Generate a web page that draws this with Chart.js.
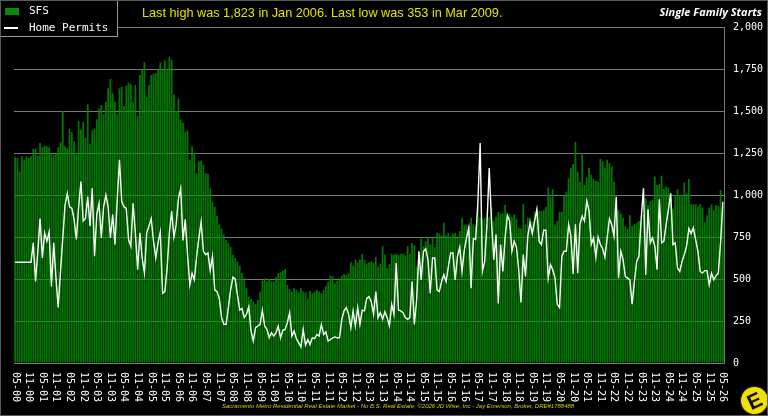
<!DOCTYPE html>
<html>
<head>
<meta charset="utf-8">
<script src="https://cdn.jsdelivr.net/npm/chart.js@4.4.1/dist/chart.umd.min.js"></script>
<style>
  html, body { margin: 0; padding: 0; background: #000; }
  #wrap { position: relative; width: 768px; height: 416px; background: #000; overflow: hidden; }
  #wrap canvas { position: absolute; left: 0; top: 0; }
  .frame { position: absolute; left: 0; top: 0; width: 766px; height: 414px; border: 1px solid #5a5a5a; pointer-events: none; }
  .legend { position: absolute; left: 0; top: 0; width: 116px; height: 35px; border: 1px solid #9a9a9a; background: #000;
            font: 11px "DejaVu Sans Mono", monospace; color: #fff; }
  .legend .sw { position: absolute; left: 4px; top: 7px; width: 14px; height: 7px; background: #0a8a0a; }
  .legend .ln { position: absolute; left: 3px; top: 26px; width: 14px; height: 2px; background: #fff; }
  .legend .t1 { position: absolute; left: 28px; top: 3px; }
  .legend .t2 { position: absolute; left: 28px; top: 20px; }
  .title { position: absolute; left: 142px; top: 6px; font: 12.7px "Liberation Sans", Arial, sans-serif; color: #e4e400; white-space: nowrap; }
  .sub { position: absolute; right: 6px; top: 4px; font: italic bold 11px "Open Sans", sans-serif; color: #fff; white-space: nowrap; }
  .foot { position: absolute; left: 222px; top: 403px; font: italic 6px "Liberation Sans", Arial, sans-serif; color: #d0d000; white-space: nowrap; }
  .logo { position: absolute; left: 740px; top: 386px; width: 27px; height: 27px; border-radius: 50%; background: #f2e000;
          border: 1px solid #222; font: bold 21px "Liberation Sans", Arial, sans-serif; color: #111; text-align: center; line-height: 27px;
          transform: rotate(-25deg); }
</style>
</head>
<body>
<div id="wrap">
  <canvas id="c" width="768" height="416"></canvas>
  <div class="legend">
    <div class="sw"></div><div class="t1">SFS</div>
    <div class="ln"></div><div class="t2">Home Permits</div>
  </div>
  <div class="title">Last high was 1,823 in Jan 2006. Last low was 353 in Mar 2009.</div>
  <div class="sub">Single Family Starts</div>
  <div class="foot">Sacramento Metro Residential Real Estate Market - No B.S. Real Estate, ©2026 JD Wise, Inc - Jay Emerson, Broker, DRE#1788488</div>
  <div class="logo">E</div>
  <div class="frame"></div>
</div>
<script>
// monthly categories, May 2000 .. May 2026
const months = [];
for (let y = 2000, m = 5; y < 2026 || (y === 2026 && m <= 5); m++) {
    if (m > 12) { m = 1; y++; if (y === 2026 && m > 5) break; }
    months.push(String(m).padStart(2, "0") + "-" + String(y % 100).padStart(2, "0"));
}

const tickLabels = [
    "05-00","11-00","05-01","11-01","05-02","11-02","05-03","11-03","05-04","11-04",
    "05-05","11-05","05-06","11-06","05-07","11-07","05-08","11-08","05-09","11-09",
    "05-10","11-10","05-11","11-11","05-12","11-12","05-13","11-13","05-14","11-14",
    "05-15","11-15","05-16","11-16","05-17","11-17","05-18","11-18","05-19","11-19",
    "05-20","11-20","05-21","11-21","05-22","11-22","05-23","11-23","05-24","11-24",
    "05-25","11-25","05-26"
];

const yTicks = [0, 250, 500, 750, 1000, 1250, 1500, 1750, 2000];

// single family starts (bars)
const sfs = [
    1225,1220,1140,1230,1210,1230,1220,1230,1275,1275,1235,1310,1285,1295,1290,1285,1245,1240,1245,1285,
    1315,1500,1290,1280,1395,1375,1320,1250,1440,1390,1435,1340,1540,1305,1385,1395,1450,1515,1535,1480,
    1555,1635,1690,1605,1555,1480,1635,1645,1530,1650,1670,1660,1555,1655,1470,1715,1745,1790,1585,1655,
    1715,1720,1725,1745,1790,1745,1800,1750,1823,1805,1600,1500,1575,1450,1430,1375,1385,1210,1290,1250,
    1130,1200,1205,1180,1130,1125,1040,960,930,875,825,800,765,730,715,690,645,625,605,580,
    535,505,445,395,380,365,353,375,425,490,505,485,500,490,485,510,535,540,550,560,
    465,440,425,445,435,420,445,425,420,385,430,415,425,435,425,415,435,460,485,520,
    515,475,490,505,520,530,525,535,600,580,615,600,615,650,615,590,600,605,595,630,
    575,590,695,645,565,590,650,645,650,645,650,650,640,695,650,715,700,575,630,740,
    695,725,750,705,745,690,775,770,760,835,760,775,750,770,775,745,785,865,820,825,
    815,865,825,815,935,865,855,865,825,870,925,845,870,900,890,890,940,880,890,870,
    885,860,805,800,945,825,865,865,845,900,920,905,905,910,930,1045,990,1035,825,845,
    900,900,1000,1020,1100,1160,1185,1315,1140,1080,1250,1060,1105,1160,1120,1095,1085,1080,1215,1200,
    1160,1210,1190,1170,1080,980,910,890,865,815,800,880,815,825,835,845,845,885,980,940,
    965,970,1110,1060,1065,1115,1035,1050,1045,985,920,1000,1035,1000,1000,1075,1010,1095,945,945,
    945,930,945,925,840,880,925,945,910,940,935,1030,940
];

// home permits (line)
const permits = [
    600,600,600,600,600,600,600,600,715,485,665,860,625,775,725,780,455,715,505,330,
    545,745,940,1010,930,920,855,735,930,1080,845,860,990,815,1040,635,885,950,745,930,
    1000,930,745,885,705,970,1210,960,930,920,735,695,950,775,555,775,625,535,775,815,
    860,725,625,715,780,415,425,565,775,905,750,825,980,1040,730,855,645,465,535,495,
    635,745,840,665,645,655,550,635,435,425,385,270,230,230,330,435,510,500,405,315,
    325,270,290,335,190,130,210,220,230,315,220,200,150,180,160,180,220,150,195,200,
    240,300,160,190,145,120,95,200,105,140,110,150,145,170,160,230,170,185,130,140,
    150,155,150,150,260,310,330,290,210,310,220,330,230,315,310,385,395,365,290,425,
    270,300,260,305,270,220,350,290,595,315,310,300,270,260,270,485,230,375,665,495,
    665,680,615,415,625,625,435,425,485,525,485,575,655,655,495,635,690,545,670,745,
    805,445,740,735,955,1310,545,605,825,1160,845,615,765,355,705,545,745,880,845,665,
    725,690,555,360,645,515,755,835,770,845,915,725,705,790,790,505,585,555,505,350,
    330,635,665,665,825,755,530,825,535,825,875,845,965,905,705,745,630,750,705,680,
    630,745,860,825,755,990,505,665,615,515,505,495,350,485,605,635,860,1040,525,915,
    715,745,695,555,975,715,725,825,915,1010,705,715,565,545,605,645,695,800,770,805,
    735,665,545,535,550,550,465,535,495,520,535,720,960
];

// rotated month labels under the axis (text runs downward)
const xLabels = {
    id: "xLabels",
    afterDraw(chart) {
        const { ctx, scales: { x } } = chart;
        ctx.save();
        ctx.fillStyle = "#ffffff";
        ctx.font = '10px "DejaVu Sans Mono", monospace';
        ctx.textAlign = "left";
        ctx.textBaseline = "middle";
        tickLabels.forEach(lbl => {
            const idx = months.indexOf(lbl);
            if (idx < 0) return;
            const px = x.getPixelForValue(idx);
            ctx.save();
            ctx.translate(px, x.top + 9);
            ctx.rotate(Math.PI / 2);
            ctx.fillText(lbl, 0, 0);
            ctx.restore();
        });
        ctx.restore();
    }
};

new Chart(document.getElementById("c"), {
    data: {
        labels: months,
        datasets: [
            {
                type: "line",
                label: "Home Permits",
                data: permits,
                borderColor: "#ffffff",
                borderWidth: 1.4,
                pointRadius: 0,
                tension: 0,
                order: 0
            },
            {
                type: "bar",
                label: "SFS",
                data: sfs,
                backgroundColor: "rgba(0,140,0,0.86)",
                barPercentage: 0.78,
                categoryPercentage: 1,
                order: 1
            }
        ]
    },
    options: {
        responsive: false,
        animation: false,
        layout: { padding: { left: 14, top: 27, right: 0, bottom: 0 } },
        plugins: {
            legend: { display: false },
            tooltip: { enabled: false }
        },
        scales: {
            x: {
                grid: { display: false },
                border: { display: true, color: "#777777" },
                ticks: { display: false },
                afterFit(s) { s.height = 53; }
            },
            y: {
                position: "right",
                min: 0,
                max: 2000,
                afterBuildTicks(s) { s.ticks = yTicks.map(v => ({ value: v })); },
                ticks: {
                    padding: 9,
                    color: "#ffffff",
                    font: { family: "DejaVu Sans Mono", size: 10 },
                    callback: v => v.toLocaleString("en-US")
                },
                grid: { color: "#7a7a7a", drawTicks: false },
                border: { display: true, color: "#777777" },
                afterFit(s) { s.width = 44; }
            }
        }
    },
    plugins: [xLabels]
});
</script>
</body>
</html>
